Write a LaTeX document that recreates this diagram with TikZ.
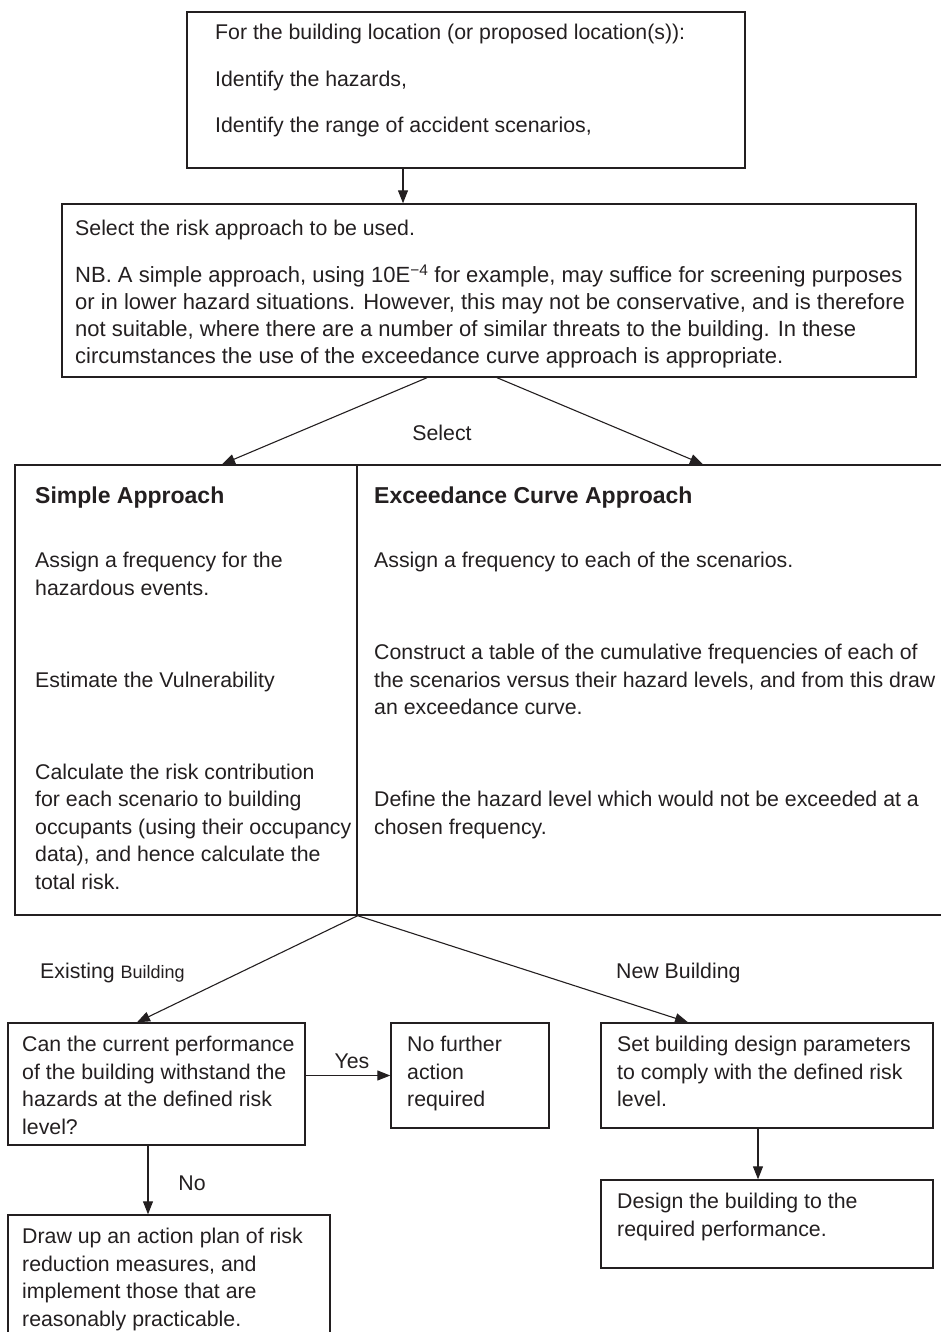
\documentclass[tikz,border=0pt]{standalone}
\usepackage{fontspec}
\setmainfont{Liberation Sans}
\usetikzlibrary{arrows.meta,positioning}
\definecolor{ink}{HTML}{231F20}
\newcommand{\headfont}{\fontsize{23}{27.5}\selectfont\bfseries}

\begin{document}
\begin{tikzpicture}[x=1pt, y=-1pt, color=ink,
   every node/.style={font=\fontsize{21.3}{27.5}\selectfont},
   box/.style={draw, rectangle, inner sep=0pt, line width=1.4pt},
   txt/.style={anchor=north west, align=left, inner sep=0pt, execute at begin node=\strut},
   arr/.style={-{Triangle[length=13pt,width=10pt]}, line width=1.1pt}]
   \useasboundingbox (0,0) rectangle (941,1332);
   \clip (0,0) rectangle (941,1332);
   % boxes
   \node[box, minimum width=558, minimum height=156] (loc) at (466,90) {};
   \node[box, minimum width=854, minimum height=173] (risk) at (489,290.5) {};
   \node[box, minimum width=342, minimum height=450] (simple) at (186,690) {};
   \node[box, minimum width=603, minimum height=450] (curve) at (658.5,690) {};
   \node[box, minimum width=297, minimum height=122] (can) at (156.5,1084) {};
   \node[box, minimum width=158, minimum height=105] (nofurther) at (470,1075.5) {};
   \node[box, minimum width=332, minimum height=105] (set) at (767,1075.5) {};
   \node[box, minimum width=332, minimum height=88] (design) at (767,1224) {};
   \node[box, minimum width=322, minimum height=135] (plan) at (169,1282.5) {};
   % texts
   \node[txt] (loctxt) at (215,24) {For the building location (or proposed location(s)):\\[19pt]Identify the hazards,\\[19pt]Identify the range of accident scenarios,};
   \node[txt] (risktxt) at (75,216) {Select the risk approach to be used.};
   \node[txt, font=\fontsize{22}{27}\selectfont] (nbtxt) at (75,264.5) {NB. A simple approach, using 10E\textsuperscript{−4} for example, may suffice for screening purposes\\or in lower hazard situations. However, this may not be conservative, and is therefore\\not suitable, where there are a number of similar threats to the building. In these\\circumstances the use of the exceedance curve approach is appropriate.};
   \node[txt] (simpletxt) at (35,487) {{\headfont Simple Approach}\\[36.5pt]Assign a frequency for the\\hazardous events.\\[64.5pt]Estimate the Vulnerability\\[64.5pt]Calculate the risk contribution\\for each scenario to building\\occupants (using their occupancy\\data), and hence calculate the\\total risk.};
   \node[txt] (curvetxt) at (374,487) {{\headfont Exceedance Curve Approach}\\[36.5pt]Assign a frequency to each of the scenarios.\\[64.5pt]Construct a table of the cumulative frequencies of each of\\the scenarios versus their hazard levels, and from this draw\\an exceedance curve.\\[64.5pt]Define the hazard level which would not be exceeded at a\\chosen frequency.};
   \node[txt] (cantxt) at (22,1036) {Can the current performance\\of the building withstand the\\hazards at the defined risk\\level?};
   \node[txt] (nofurthertxt) at (407,1036) {No further\\action\\required};
   \node[txt] (settxt) at (617,1036) {Set building design parameters\\to comply with the defined risk\\level.};
   \node[txt] (designtxt) at (617,1193) {Design the building to the\\required performance.};
   \node[txt] (plantxt) at (22,1228) {Draw up an action plan of risk\\reduction measures, and\\implement those that are\\reasonably practicable.};
   % labels
   \node (sel) at (442,433) {Select};
   \node[anchor=west, inner sep=0pt] (exist) at (40,973) {Existing {\fontsize{18}{22}\selectfont Building}};
   \node[anchor=west, inner sep=0pt] (new) at (616,973) {New Building};
   \node (yes) at (352,1061) {Yes};
   \node (no) at (192,1183) {No};
   % connectors
   \draw[arr] ([xshift=-63]loc.south) -- ([xshift=-63]loc.south |- risk.north);
   \draw[arr] ([xshift=-62]risk.south) -- ([xshift=36]simple.north);
   \draw[arr] ([xshift=8]risk.south) -- ([xshift=44.5]curve.north);
   \draw[arr] (simple.south east) -- ([xshift=-19.5]can.north);
   \draw[arr] (simple.south east) -- ([xshift=-79]set.north);
   \draw[arr] (can.east |- nofurther.west) -- (nofurther.west);
   \draw[arr] ([xshift=-8.5]can.south) -- ([xshift=-8.5]can.south |- plan.north);
   \draw[arr] ([xshift=-9]set.south) -- ([xshift=-9]set.south |- design.north);
\end{tikzpicture}
\end{document}
